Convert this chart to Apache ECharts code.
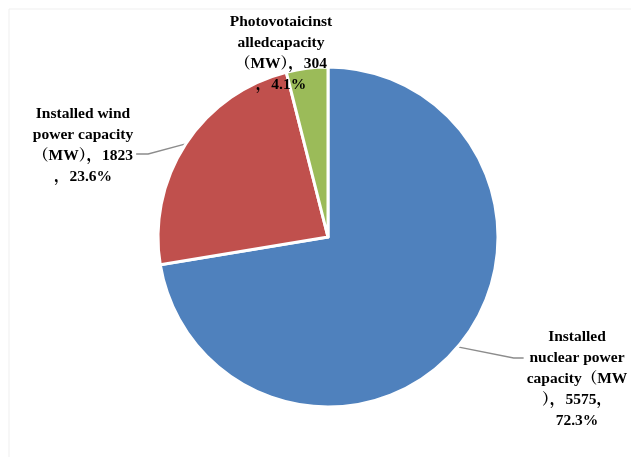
<!DOCTYPE html>
<html>
<head>
<meta charset="utf-8">
<script src="https://cdn.jsdelivr.net/npm/echarts@6/dist/echarts.min.js"></script>
<style>
  html, body { margin: 0; padding: 0; background: #fff; }
  #chart { width: 631px; height: 457px; }
</style>
</head>
<body>
<div id="chart"></div>
<script>
// values
var names = ['Installed nuclear power capacity', 'Installed wind power capacity', 'Photovotaicinstalledcapacity'];
var values = [5575, 1823, 304];
var percents = ['72.3%', '23.6%', '4.1%'];
// label text, wrapped the same way as the original
var labelTexts = [
  'Installed\nnuclear power\ncapacity（MW\n），5575，\n' + percents[0],
  'Installed wind\npower capacity\n（MW），' + values[1] + '\n，' + percents[1],
  'Photovotaicinst\nalledcapacity\n（MW），' + values[2] + '\n，' + percents[2]
];
var colors = ['#4F81BD', '#C0504D', '#9BBB59'];

// where each label block sits (centre), and where its guide line meets it
var labelPos = [
  { x: 577, y: 379, side: 'left', lineY: 358 },
  { x: 83, y: 145, side: 'right', lineY: 154 },
  { x: 281, y: 53, side: null }
];

var chart = echarts.init(document.getElementById('chart'));

var data = names.map(function(n, i) {
  return {
    name: n,
    value: values[i],
    labelLine: { show: labelPos[i].side !== null }
  };
});

chart.setOption({
  animation: false,
  color: colors,
  graphic: [{
    type: 'rect',
    shape: { x: 9, y: 9, width: 640, height: 460 },
    style: { fill: 'none', stroke: '#efefef', lineWidth: 1 }
  }],
  series: [{
    type: 'pie',
    center: [328, 237],
    radius: [0, 170],
    startAngle: 90,
    clockwise: true,
    data: data,
    itemStyle: { borderColor: '#fff', borderWidth: 3 },
    label: {
      show: true,
      position: 'outside',
      formatter: function(p) { return labelTexts[p.dataIndex]; },
      fontFamily: '"Liberation Serif", "Noto Serif CJK SC", "Noto Sans CJK SC", serif',
      fontWeight: 'bold',
      fontSize: 15.5,
      lineHeight: 21,
      color: '#000'
    },
    labelLine: {
      show: true,
      length: 20,
      length2: 10,
      lineStyle: { color: '#8c8c8c', width: 1.3 }
    },
    labelLayout: function(p) {
      var pos = labelPos[p.dataIndex];
      var res = { x: pos.x, y: pos.y, align: 'center', verticalAlign: 'middle' };
      if (pos.side && p.labelLinePoints) {
        var w = p.labelRect.width;
        var start = p.labelLinePoints[0];
        var edge = pos.side === 'left' ? pos.x - w / 2 - 3 : pos.x + w / 2 + 3;
        var knee = pos.side === 'left' ? edge - 10 : edge + 12;
        res.labelLinePoints = [start, [knee, pos.lineY], [edge, pos.lineY]];
      }
      return res;
    }
  }]
});
</script>
</body>
</html>
